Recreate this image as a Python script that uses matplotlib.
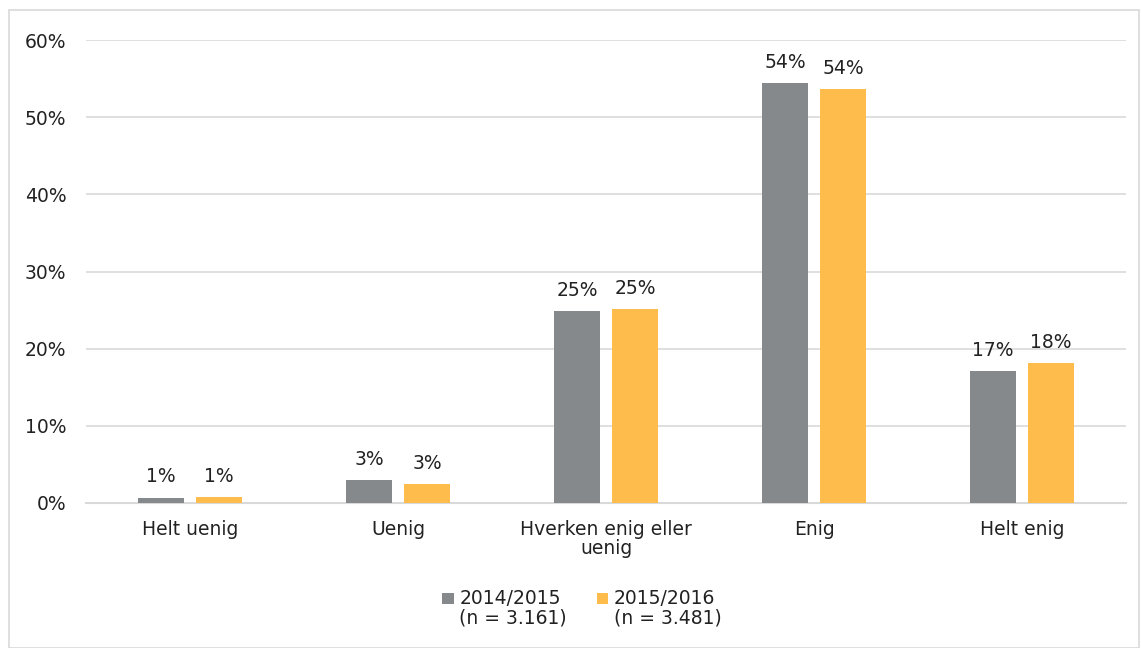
import matplotlib
matplotlib.use("Agg")
import matplotlib.pyplot as plt
import numpy as np
from matplotlib.patches import Rectangle

categories = ["Helt uenig", "Uenig", "Hverken enig eller\nuenig", "Enig", "Helt enig"]
values_2014 = [0.7, 3.0, 24.9, 54.4, 17.1]
values_2015 = [0.8, 2.5, 25.1, 53.6, 18.1]
labels_2014 = ["1%", "3%", "25%", "54%", "17%"]
labels_2015 = ["1%", "3%", "25%", "54%", "18%"]
series_names = ["2014/2015\n(n = 3.161)", "2015/2016\n(n = 3.481)"]
y_ticks = [0, 10, 20, 30, 40, 50, 60]

GRAY = "#86898b"
ORANGE = "#fdbc4b"
FS = 13.5

plt.rcParams.update({"font.family": ["DejaVu Sans"], "font.size": FS})

W, H = 1142, 648
fig = plt.figure(figsize=(W / 100, H / 100), dpi=100)
ax = fig.add_axes([86 / W, 1 - 503 / H, (1126 - 86) / W, (503 - 40) / H])

x = np.arange(len(categories))
width = 0.221
offset = 0.139
b1 = ax.bar(x - offset, values_2014, width, color=GRAY, label=series_names[0], zorder=3)
b2 = ax.bar(x + offset, values_2015, width, color=ORANGE, label=series_names[1], zorder=3)

for bars, labels in ((b1, labels_2014), (b2, labels_2015)):
    for rect, lab in zip(bars, labels):
        ax.annotate(lab, (rect.get_x() + rect.get_width() / 2, rect.get_height()),
                    xytext=(0, 8), textcoords="offset points",
                    ha="center", va="bottom", fontsize=FS, color="#222222")

ax.set_xlim(-0.5, len(categories) - 0.5)
ax.set_ylim(0, 60)
ax.set_yticks(y_ticks)
ax.set_yticklabels([f"{t}%" for t in y_ticks])
ax.set_xticks(x)
ax.set_xticklabels(categories, fontsize=FS, color="#222222", linespacing=1.0)
ax.tick_params(axis="both", length=0, colors="#222222", labelsize=FS)
ax.tick_params(axis="y", pad=14)
ax.tick_params(axis="x", pad=12)
ax.yaxis.grid(True, color="#d9d9d9", linewidth=1.2, zorder=0)
for side in ("top", "right", "left"):
    ax.spines[side].set_visible(False)
ax.spines["bottom"].set_color("#d9d9d9")
ax.spines["bottom"].set_linewidth(1.5)

leg = fig.legend(handles=[b1, b2], labels=series_names, loc="center",
                 bbox_to_anchor=(582 / W, 1 - 608 / H), ncol=2, frameon=False,
                 fontsize=FS, handlelength=0.6, handleheight=0.6,
                 handletextpad=0.3, columnspacing=1.6)
for t in leg.get_texts():
    t.set_color("#222222")
    t.set_linespacing(1.0)
for h in leg.legend_handles:
    h.set_y(h.get_y() + 7.5)

fig.patches.append(Rectangle((9 / W, 0), (1139 - 9) / W, 1 - 10 / H,
                             transform=fig.transFigure, fill=False,
                             edgecolor="#d9d9d9", linewidth=1.2))

fig.savefig("out.png", dpi=100)
